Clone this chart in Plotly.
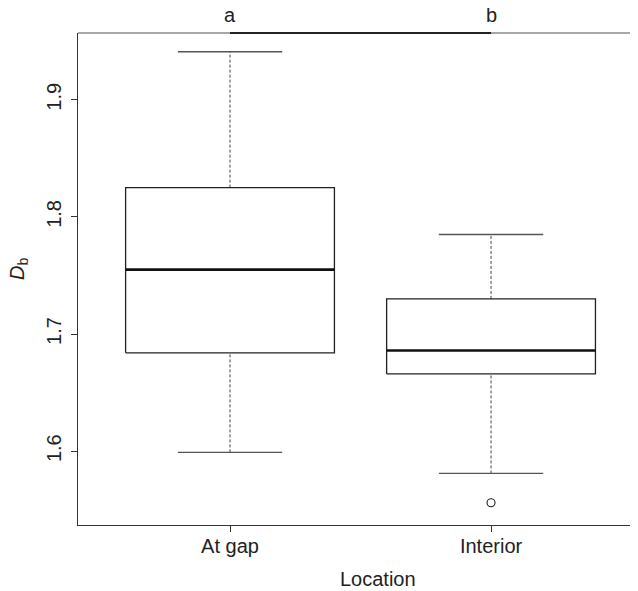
import plotly.graph_objects as go

# ---- data ----
categories = ["At gap", "Interior"]
lower_whisker = [1.599, 1.581]
q1 = [1.684, 1.666]
median = [1.755, 1.686]
q3 = [1.825, 1.730]
upper_whisker = [1.941, 1.785]
outliers_x = ["Interior"]
outliers_y = [1.556]
sig_letters = ["a", "b"]
y_ticks = [1.6, 1.7, 1.8, 1.9]

BOX_HALF = 0.4
CAP_HALF = 0.2
FONT = "Liberation Sans, Arial, Helvetica, sans-serif"
LINE = "#222222"

pos = {c: i + 1 for i, c in enumerate(categories)}

fig = go.Figure()

for i, c in enumerate(categories):
    p = pos[c]
    # dashed whiskers
    fig.add_trace(go.Scatter(x=[p, p], y=[q3[i], upper_whisker[i]], mode="lines",
                             line=dict(color="#444", width=1, dash="3px,2px"),
                             showlegend=False, hoverinfo="skip"))
    fig.add_trace(go.Scatter(x=[p, p], y=[lower_whisker[i], q1[i]], mode="lines",
                             line=dict(color="#444", width=1, dash="3px,2px"),
                             showlegend=False, hoverinfo="skip"))
    # caps
    for w in (upper_whisker[i], lower_whisker[i]):
        fig.add_trace(go.Scatter(x=[p - CAP_HALF, p + CAP_HALF], y=[w, w], mode="lines",
                                 line=dict(color="#555", width=1.3),
                                 showlegend=False, hoverinfo="skip"))
    # box
    fig.add_trace(go.Scatter(x=[p - BOX_HALF, p + BOX_HALF, p + BOX_HALF, p - BOX_HALF, p - BOX_HALF],
                             y=[q1[i], q1[i], q3[i], q3[i], q1[i]], mode="lines",
                             line=dict(color=LINE, width=1.3),
                             showlegend=False, hoverinfo="skip"))
    # median
    fig.add_trace(go.Scatter(x=[p - BOX_HALF, p + BOX_HALF], y=[median[i], median[i]], mode="lines",
                             line=dict(color="#111", width=2.6),
                             showlegend=False, hoverinfo="skip"))

fig.add_trace(go.Scatter(x=[pos[c] for c in outliers_x], y=outliers_y, mode="markers",
                         marker=dict(symbol="circle-open", size=8, color="#222", line=dict(width=1.1)),
                         showlegend=False, hoverinfo="skip"))

# top frame line and significance bar
fig.add_shape(type="line", xref="paper", yref="paper", x0=0, x1=1, y0=1, y1=1,
              line=dict(color="#8a8a8a", width=1.5))
fig.add_shape(type="line", xref="x", yref="paper", x0=pos[categories[0]], x1=pos[categories[1]],
              y0=1, y1=1, line=dict(color="#222", width=2))

for c, letter in zip(categories, sig_letters):
    fig.add_annotation(x=pos[c], xref="x", y=1.0366, yref="paper", text=letter,
                       showarrow=False, xanchor="center", yanchor="middle",
                       font=dict(family=FONT, size=20, color="#222"))

fig.add_annotation(x=(378 - 78) / 560, xref="paper", y=(525 - 579) / 492, yref="paper",
                   text="Location", showarrow=False, xanchor="center", yanchor="middle",
                   font=dict(family=FONT, size=20, color="#222"))
fig.add_annotation(x=(18 - 78) / 560, xref="paper", y=(525 - 269) / 492, yref="paper",
                   text="<i>D</i><sub>b</sub>", textangle=-90, showarrow=False,
                   xanchor="center", yanchor="middle",
                   font=dict(family=FONT, size=20, color="#222"))

# page body has an 8px default margin, so the figure is drawn 8px smaller
fig.update_layout(
    width=630, height=583,
    margin=dict(l=70, r=0, t=25, b=66),
    paper_bgcolor="white", plot_bgcolor="white",
    font=dict(family=FONT, size=20, color="#222"),
    xaxis=dict(range=[0.4176, 2.563], tickvals=[pos[c] for c in categories], ticktext=categories,
               showgrid=False, zeroline=False, showline=True, linecolor="#333", linewidth=1.3,
               ticks="outside", ticklen=6, tickcolor="#333", tickwidth=1.2,
               ticklabelstandoff=-3, tickfont=dict(size=20)),
    yaxis=dict(range=[1.537, 1.957], tickvals=y_ticks, ticktext=[f"{v:.1f}" for v in y_ticks],
               tickangle=-90, showgrid=False, zeroline=False, showline=True, linecolor="#333",
               linewidth=1.3, ticks="outside", ticklen=6, tickcolor="#333", tickwidth=1.2,
               ticklabelstandoff=2, tickfont=dict(size=20)),
)

fig.write_html("out.html")
